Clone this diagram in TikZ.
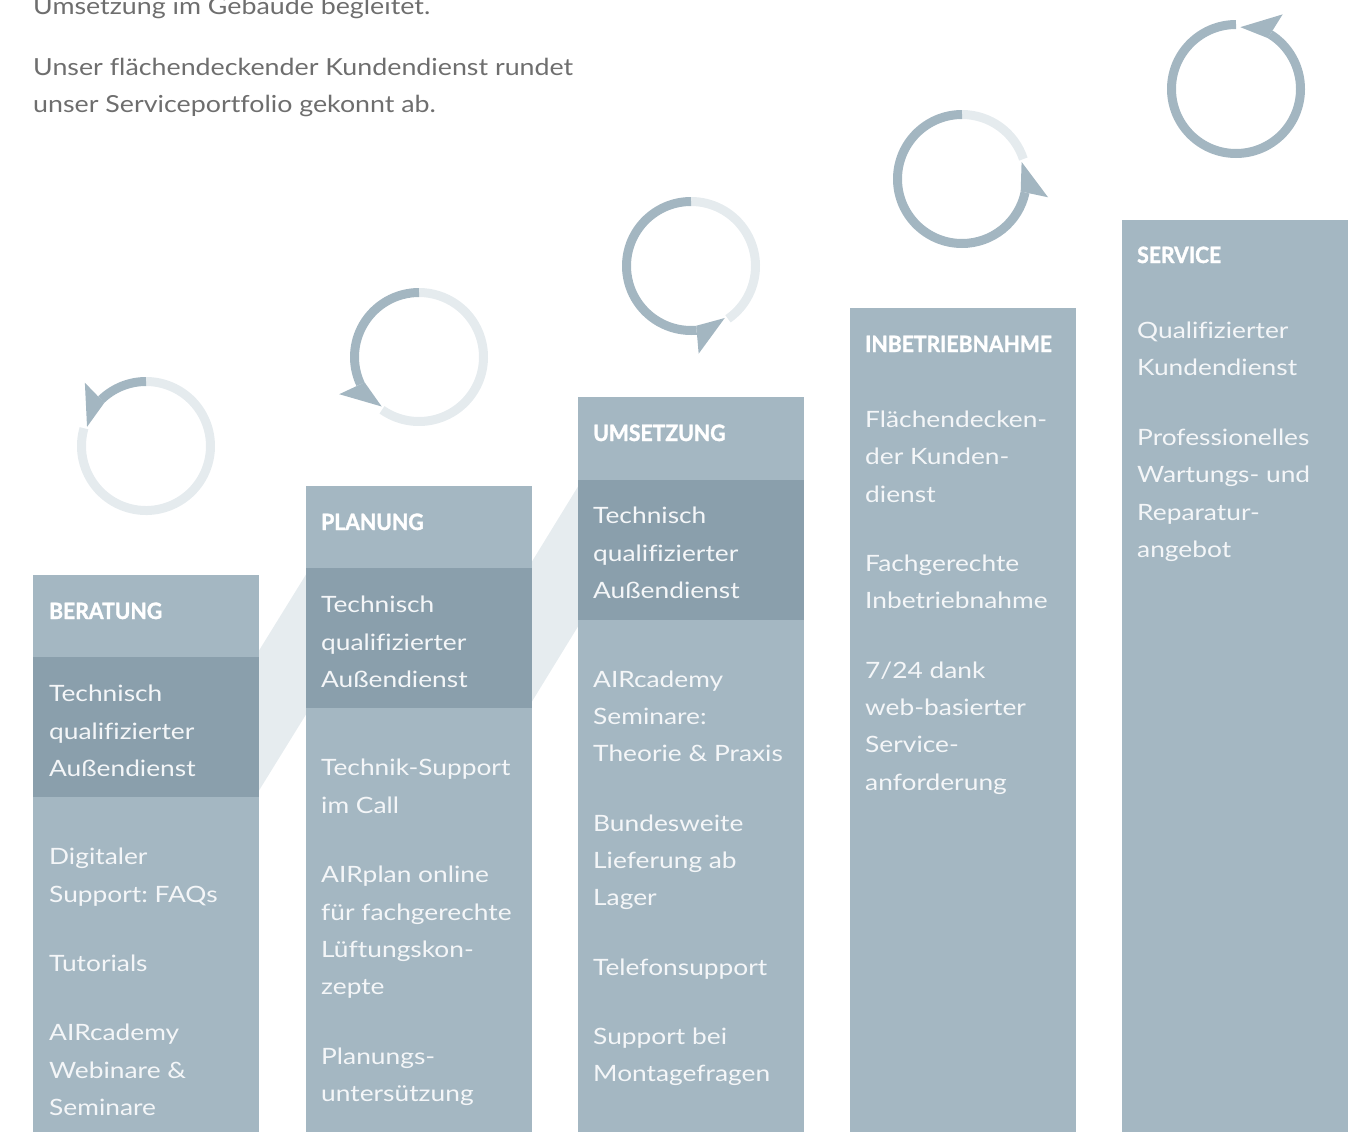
\documentclass[tikz,border=0pt]{standalone}
\usepackage{fontspec}
\setmainfont{Lato}[FakeStretch=1.17, Ligatures=NoCommon]
\newfontfamily\introfont{Lato}[FakeStretch=1.14, Ligatures=NoCommon]
\newfontfamily\headfont{Lato}[FakeStretch=0.94, BoldFeatures={FakeBold=1.5}]
\frenchspacing
\definecolor{colbg}{HTML}{A4B7C2}
\definecolor{colD}{HTML}{8A9FAC}
\definecolor{bandc}{HTML}{E6ECEF}
\definecolor{arcLc}{HTML}{E5EBEE}
\definecolor{arcDc}{HTML}{A3B6C1}
\definecolor{toptxt}{HTML}{6E6E6E}
\definecolor{coltxt}{HTML}{F4F6F8}
\tikzset{
  txt/.style={anchor=base west, inner sep=0pt, font=\fontsize{22.5}{27}\selectfont, text=coltxt},
  head/.style={anchor=base west, inner sep=0pt, font=\headfont\bfseries\fontsize{22.5}{27}\selectfont, text=white},
  intro/.style={anchor=base west, inner sep=0pt, font=\introfont\fontsize{23.5}{28}\selectfont, text=toptxt},
  lightarc/.style={draw=arcLc, line width=9pt, line cap=butt},
  darkarc/.style={draw=arcDc, line width=9pt, line cap=butt},
}
\newcommand{\progcircle}[4]{% name, cx, cy, E
  \coordinate (#1) at (#2,-#3);
  \begin{scope}[shift={(#1)}]
    \pgfmathsetmacro{\eplus}{#4+2}
    \pgfmathsetmacro{\eback}{#4-28}
    \ifdim #4pt<440pt
      \draw[lightarc] (\eplus:64.5) arc[start angle=\eplus, end angle=450, radius=64.5];
    \fi
    \draw[darkarc] (90:64.5) arc[start angle=90, end angle=\eback, radius=64.5];
    \fill[arcDc] (#4:62) -- (\eback:88) -- (\eback:60) -- cycle;
  \end{scope}
}
\begin{document}
\begin{tikzpicture}[x=1pt,y=1pt]
\useasboundingbox (0,0) rectangle (1358,-1132);
\clip (0,0) rectangle (1358,-1132);

% intro text
\node[intro] (i1) at (33,-15) {Umsetzung im Gebäude begleitet.};
\node[intro] (i2) at (33,-75) {Unser flächendeckender Kundendienst rundet};
\node[intro] (i3) at (33,-112) {unser Serviceportfolio gekonnt ab.};

% connector bands
\fill[bandc] (255,-657) -- (310,-568) -- (310,-708) -- (255,-797) -- cycle;
\fill[bandc] (528,-568) -- (582,-480) -- (582,-620) -- (528,-708) -- cycle;

% columns
\fill[colbg] (33,-575) rectangle (259,-1132);
\fill[colD] (33,-657) rectangle (259,-797);
\fill[colbg] (306,-486) rectangle (532,-1132);
\fill[colD] (306,-568) rectangle (532,-708);
\fill[colbg] (578,-397) rectangle (804,-1132);
\fill[colD] (578,-480) rectangle (804,-620);
\fill[colbg] (850,-308) rectangle (1076,-1132);
\fill[colbg] (1122,-220) rectangle (1348,-1132);

% circles
\progcircle{c1}{146}{446}{162}
\progcircle{c2}{419}{357}{233}
\progcircle{c3}{691}{266}{303}
\progcircle{c4}{962}{179}{376}
\progcircle{c5}{1236}{89}{446}

% column 1
\node[head] (h1) at (49,-619) {BERATUNG};
\foreach \t/\y [count=\i] in {{Technisch}/701, {qualifizierter}/739, {Außendienst}/776,
  {Digitaler}/864, {Support: FAQs}/902, {Tutorials}/971,
  {AIRcademy}/1040, {Webinare \&}/1078, {Seminare}/1115}
  \node[txt] (a\i) at (49,-\y) {\t};

% column 2
\node[head] (h2) at (321,-530) {PLANUNG};
\foreach \t/\y [count=\i] in {{Technisch}/612, {qualifizierter}/650, {Außendienst}/687,
  {Technik-Support}/775, {im Call}/813,
  {AIRplan online}/882, {für fachgerechte}/920, {Lüftungskon-}/957, {zepte}/994,
  {Planungs-}/1064, {untersützung}/1101}
  \node[txt] (b\i) at (321,-\y) {\t};

% column 3
\node[head] (h3) at (593,-441) {UMSETZUNG};
\foreach \t/\y [count=\i] in {{Technisch}/523, {qualifizierter}/561, {Außendienst}/598,
  {AIRcademy}/687, {Seminare:}/724, {Theorie \& Praxis}/761,
  {Bundesweite}/831, {Lieferung ab}/868, {Lager}/905,
  {Telefonsupport}/975, {Support bei}/1044, {Montagefragen}/1081}
  \node[txt] (c\i) at (593,-\y) {\t};

% column 4
\node[head] (h4) at (865,-352) {INBETRIEBNAHME};
\foreach \t/\y [count=\i] in {{Flächendecken-}/427, {der Kunden-}/464, {dienst}/502,
  {Fachgerechte}/571, {Inbetriebnahme}/608,
  {7/24 dank}/678, {web-basierter}/715, {Service-}/752, {anforderung}/790}
  \node[txt] (d\i) at (865,-\y) {\t};

% column 5
\node[head] (h5) at (1137,-263) {SERVICE};
\foreach \t/\y [count=\i] in {{Qualifizierter}/338, {Kundendienst}/375,
  {Professionelles}/445, {Wartungs- und}/482, {Reparatur-}/520, {angebot}/557}
  \node[txt] (e\i) at (1137,-\y) {\t};
\end{tikzpicture}
\end{document}
